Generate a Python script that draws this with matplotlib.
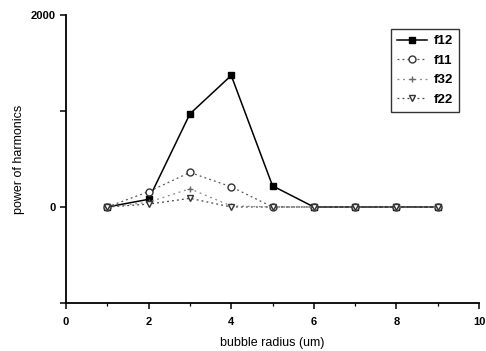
import matplotlib
matplotlib.use("Agg")
import matplotlib.pyplot as plt
from matplotlib.ticker import FixedLocator, FixedFormatter, MultipleLocator

plt.rcParams['font.family'] = ['Liberation Sans', 'DejaVu Sans']

radius = [1, 2, 3, 4, 5, 6, 7, 8, 9]
f12 = [0, 80, 970, 1370, 220, 0, 0, 0, 0]
f11 = [0, 160, 360, 210, 0, 0, 0, 0, 0]
f32 = [0, 50, 190, 10, 0, 0, 0, 0, 0]
f22 = [0, 30, 90, 0, 0, 0, 0, 0, 0]

fig = plt.figure(figsize=(4.86, 3.51), dpi=100)
ax = fig.add_axes([0.1358, 0.1368, 0.85, 0.8205])

ax.plot(radius, f12, color='black', lw=1.1, marker='s', ms=5, mfc='black', mec='black', label='f12', zorder=3)
ax.plot(radius, f11, color='#555555', lw=0.9, ls=(0, (1.5, 2.5)), marker='o', ms=5, mfc='white', mec='#333333', label='f11', zorder=4)
ax.plot(radius, f32, color='#888888', lw=0.9, ls=(0, (1.5, 3)), marker='+', ms=4, mec='#666666', label='f32', zorder=4)
ax.plot(radius, f22, color='#444444', lw=0.9, ls=(0, (1.5, 2.5)), marker='v', ms=5, mfc='white', mec='#333333', label='f22', zorder=5)

ax.set_xlim(0, 10)
ax.set_ylim(-1000, 2000)
ax.xaxis.set_major_locator(MultipleLocator(2))
ax.xaxis.set_minor_locator(MultipleLocator(1))
ax.yaxis.set_major_locator(FixedLocator([-1000, 0, 1000, 2000]))
ax.yaxis.set_major_formatter(FixedFormatter(['', '0', '', '2000']))

for s in ('top', 'right'):
    ax.spines[s].set_visible(False)
for s in ('left', 'bottom'):
    ax.spines[s].set_linewidth(1.3)

ax.tick_params(which='major', direction='out', length=4, width=1.1, labelsize=8)
ax.tick_params(axis='x', which='major', pad=6)
ax.tick_params(which='minor', direction='out', length=2, width=0.9)
for lbl in ax.get_xticklabels() + ax.get_yticklabels():
    lbl.set_fontweight('bold')

ax.set_xlabel('bubble radius (um)', fontsize=9, labelpad=7)
ax.set_ylabel('power of harmonics', fontsize=9, labelpad=4)

leg = ax.legend(loc='upper right', bbox_to_anchor=(0.952, 0.951), fontsize=9.5,
                frameon=True, fancybox=False, handlelength=2.3, borderpad=0.45,
                labelspacing=0.55, handletextpad=0.5, borderaxespad=0)
leg.get_frame().set_edgecolor('black')
leg.get_frame().set_linewidth(1.0)
for t in leg.get_texts():
    t.set_fontweight('bold')

fig.savefig('out.png', dpi=100)
